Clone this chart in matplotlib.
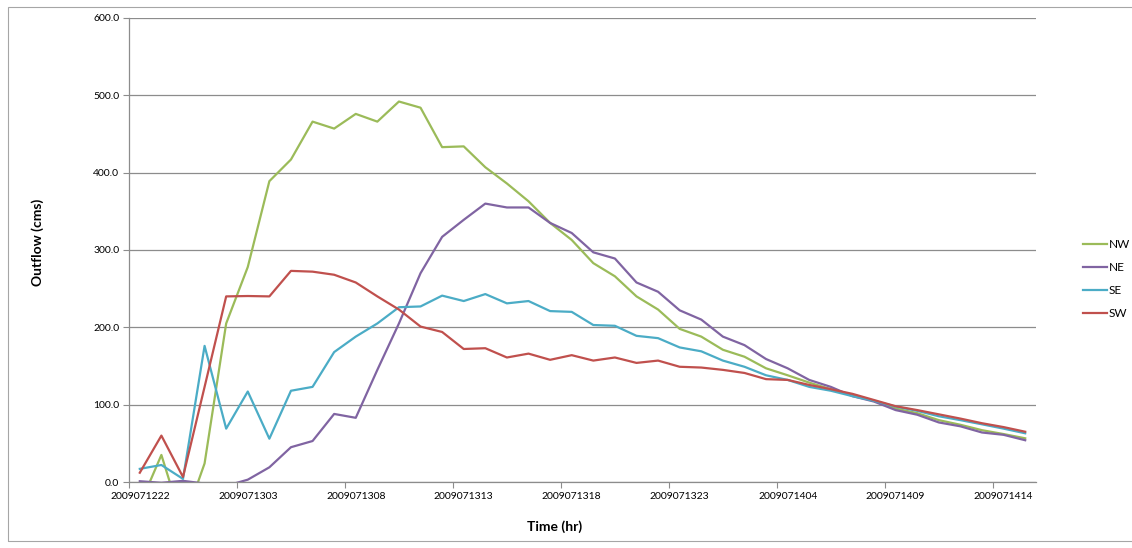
import matplotlib
matplotlib.use('Agg')
import matplotlib.pyplot as plt
from matplotlib.patches import Rectangle

plt.rcParams['font.family'] = ['Lato', 'DejaVu Sans']

# hourly time stamps 2009071222 .. 2009071415
times = ['2009071222', '2009071223'] + ['200907130%d' % h for h in range(10)] + \
        ['20090713%d' % h for h in range(10, 24)] + ['200907140%d' % h for h in range(10)] + \
        ['20090714%d' % h for h in range(10, 16)]

nw = [-30, 35, -55, 24, 205, 278, 389, 417, 466, 457, 476, 466, 492, 484, 433, 434, 407, 386, 363, 335,
      313, 283, 266, 240, 223, 198, 188, 171, 162, 147, 138, 128.5, 120, 112.5, 105, 95, 89, 80, 74, 67, 62, 56.5]
ne = [1, -1, 1.5, -2, -5, 3, 19, 45, 53, 88, 83, 145, 205, 270, 317, 339, 360, 355, 355, 335,
      322, 297, 289, 258, 246, 222, 210, 188, 177, 159, 147, 132, 123, 111, 104, 93, 87, 77, 72, 64, 61, 54]
se = [17, 22, 4, 176, 69, 117, 56, 118, 123, 168, 188, 205, 226, 227, 241, 234, 243, 231, 234, 221,
      220, 203, 202, 189, 186, 174, 169, 157, 149, 138, 132, 123, 118, 111, 105, 97.5, 92, 85, 80, 74.6, 69, 63]
sw = [12, 60, 6.5, 123, 240, 240.5, 240, 273, 272, 268, 258, 240, 223, 201, 194, 172, 173, 161, 166, 158,
      164, 157, 161, 154, 157, 149, 148, 145, 141, 133, 132, 125.5, 120, 114, 106, 98, 93, 87.5, 82, 76, 71, 65]

series = [('NW', nw, '#9BBB59'), ('NE', ne, '#8064A2'), ('SE', se, '#4BACC6'), ('SW', sw, '#C0504D')]
x = list(range(len(times)))

fig = plt.figure(figsize=(11.32, 5.48), dpi=100)
ax = fig.add_axes([129 / 1132, 1 - 482 / 548, (1036 - 129) / 1132, (482 - 18) / 548])

for name, vals, c in series:
    ax.plot(x, vals, color=c, lw=1.6, label=name)

ax.set_xlim(-0.5, len(times) - 0.5)
ax.set_ylim(0, 600)
ax.set_yticks(range(0, 601, 100))
ax.set_yticklabels(['%.1f' % v for v in range(0, 601, 100)], fontsize=7.5)
ax.yaxis.grid(True, color='#8c8c8c', lw=0.9)
ax.set_axisbelow(True)

# tick marks between categories, labels at category centres
ax.set_xticks([i - 0.5 for i in range(0, len(times), 5)])
ax.set_xticklabels([])
ax.set_xticks(list(range(0, len(times), 5)), minor=True)
ax.set_xticklabels([times[i] for i in range(0, len(times), 5)], minor=True, fontsize=7.5)
ax.tick_params(axis='x', which='major', length=4, color='#8c8c8c')
ax.tick_params(axis='x', which='minor', length=0, pad=7)
ax.tick_params(axis='y', length=4, color='#8c8c8c', pad=3)

for s in ['top', 'right']:
    ax.spines[s].set_visible(False)
for s in ['left', 'bottom']:
    ax.spines[s].set_color('#8c8c8c')
    ax.spines[s].set_linewidth(0.9)

fig.text(38 / 1132, 1 - 242 / 548, 'Outflow (cms)', rotation=90, ha='center', va='center',
         fontsize=10, fontweight='bold')
fig.text(555 / 1132, 1 - 527 / 548, 'Time (hr)', ha='center', va='center', fontsize=10, fontweight='bold')

fig.legend(loc='center left', bbox_to_anchor=(1083 / 1132, 1 - 279 / 548), frameon=False, fontsize=8.5,
           handlelength=2.0, handletextpad=0.15, labelspacing=1.0, borderpad=0, borderaxespad=0)

# chart area border (right side runs off the picture)
fig.patches.append(Rectangle((8 / 1132, 1 - 541 / 548), 1140 / 1132, 534 / 548, transform=fig.transFigure,
                             fill=False, edgecolor='#a6a6a6', lw=0.8))

plt.savefig('out.png', dpi=100)
